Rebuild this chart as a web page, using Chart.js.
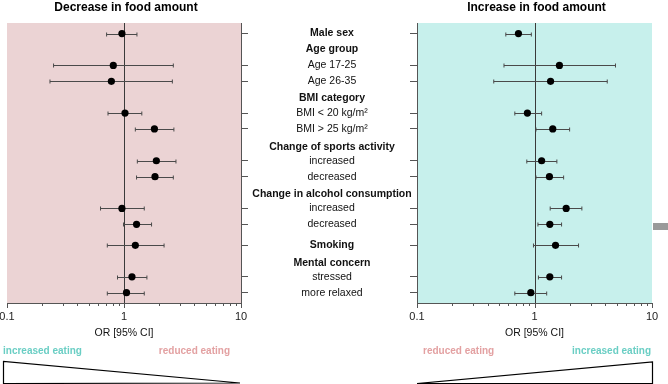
<!DOCTYPE html>
<html>
<head>
<meta charset="utf-8">
<script src="https://cdn.jsdelivr.net/npm/chart.js@4.4.0/dist/chart.umd.min.js"></script>
<style>
  body { margin: 0; background: #fff; }
  #wrap { position: relative; width: 668px; height: 384px; }
  canvas { position: absolute; left: 0; top: 0; }
</style>
</head>
<body>
<div id="wrap">
  <canvas id="decrease" width="668" height="384"></canvas>
  <canvas id="increase" width="668" height="384"></canvas>
</div>
<script>
const rowLabels = ['Male sex', 'Age 17-25', 'Age 26-35', 'BMI < 20 kg/m²', 'BMI > 25 kg/m²',
    'increased', 'decreased', 'increased', 'decreased', 'Smoking', 'stressed', 'more relaxed'];
const rowPos = [0, 2, 3, 5, 6, 8, 9, 11, 12, 13.32, 15.3, 16.3];
const boldRows = ['Male sex', 'Smoking'];
const groupLabels = ['Age group', 'BMI category', 'Change of sports activity',
    'Change in alcohol consumption', 'Mental concern'];
const groupPos = [1, 4.09, 7.14, 10.11, 14.44];
const orTicks = [0.1, 1, 10];

const decreaseOR = [0.96, 0.81, 0.78, 1.02, 1.82, 1.89, 1.84, 0.96, 1.28, 1.25, 1.17, 1.05];
const decreaseLow = [0.71, 0.25, 0.233, 0.73, 1.25, 1.30, 1.28, 0.63, 0.99, 0.72, 0.88, 0.72];
const decreaseHigh = [1.29, 2.64, 2.59, 1.42, 2.67, 2.78, 2.64, 1.49, 1.72, 2.20, 1.57, 1.49];

const increaseOR = [0.73, 1.63, 1.37, 0.87, 1.43, 1.15, 1.34, 1.86, 1.35, 1.51, 1.35, 0.93];
const increaseLow = [0.57, 0.55, 0.45, 0.68, 1.03, 0.86, 1.03, 1.36, 1.07, 0.98, 1.08, 0.68];
const increaseHigh = [0.94, 4.89, 4.16, 1.15, 1.99, 1.55, 1.77, 2.53, 1.70, 2.37, 1.70, 1.27];

const TEAL = '#6acec4';
const ROSE = '#e3a1a2';
const FONT = "'Liberation Sans', Arial, sans-serif";
Chart.defaults.font.family = FONT;

const forestPlugin = {
    id: 'forest',
    beforeDraw(chart, args, opts) {
        const { ctx, chartArea: a } = chart;
        ctx.save();
        ctx.fillStyle = opts.bg;
        ctx.fillRect(a.left, a.top, a.right - a.left, a.bottom - a.top);
        ctx.restore();
    },
    beforeDatasetsDraw(chart, args, opts) {
        const { ctx, chartArea: a, scales: { x, y } } = chart;
        ctx.save();
        // reference line at OR = 1
        const x1 = Math.round(x.getPixelForValue(1)) + 0.5;
        ctx.strokeStyle = '#3a3a3a';
        ctx.lineWidth = 1;
        ctx.beginPath();
        ctx.moveTo(x1, a.top);
        ctx.lineTo(x1, a.bottom);
        ctx.stroke();
        // confidence intervals
        ctx.strokeStyle = '#4a4a4a';
        opts.low.forEach((lo, i) => {
            const py = Math.round(y.getPixelForValue(rowPos[i])) + 0.5;
            const x0 = x.getPixelForValue(lo);
            const x2 = x.getPixelForValue(opts.high[i]);
            ctx.beginPath();
            ctx.moveTo(x0, py); ctx.lineTo(x2, py);
            ctx.moveTo(x0, py - 2); ctx.lineTo(x0, py + 2);
            ctx.moveTo(x2, py - 2); ctx.lineTo(x2, py + 2);
            ctx.stroke();
        });
        ctx.restore();
    },
    afterDraw(chart, args, opts) {
        const { ctx, chartArea: a, scales: { x, y } } = chart;
        const cx = (a.left + a.right) / 2;
        ctx.save();

        // log ticks below the axis: long at decades, short in between
        ctx.strokeStyle = '#555';
        ctx.lineWidth = 1;
        ctx.beginPath();
        for (let d = 0.1; d < 10; d *= 10) {
            for (let m = 1; m <= 10; m++) {
                const px = Math.round(x.getPixelForValue(d * m)) + 0.5;
                const len = (m === 1 || m === 10) ? 5 : 3;
                ctx.moveTo(px, a.bottom);
                ctx.lineTo(px, a.bottom + len);
            }
        }
        ctx.stroke();

        ctx.textBaseline = 'middle';
        ctx.fillStyle = '#000';
        ctx.textAlign = 'center';
        ctx.font = `bold 12px ${FONT}`;
        ctx.fillText(opts.title, cx + 2, 8);
        ctx.font = `10.5px ${FONT}`;
        ctx.fillStyle = '#111';
        ctx.fillText('OR [95% CI]', cx, 333);

        // direction captions
        ctx.font = `bold 10px ${FONT}`;
        ctx.textAlign = 'left';
        ctx.fillStyle = opts.leftColor;
        ctx.fillText(opts.leftText, opts.leftX, 351);
        ctx.textAlign = 'right';
        ctx.fillStyle = opts.rightColor;
        ctx.fillText(opts.rightText, opts.rightX, 351);

        // wedge
        ctx.strokeStyle = '#000';
        ctx.fillStyle = '#fff';
        ctx.lineWidth = 1.2;
        ctx.beginPath();
        if (opts.wedge === 'left') {
            ctx.moveTo(3.5, 383.5);
            ctx.lineTo(3.5, 361.5);
            ctx.lineTo(a.right - 1, 383);
        } else {
            ctx.moveTo(a.left, 383.5);
            ctx.lineTo(a.right + 0.5, 362);
            ctx.lineTo(a.right + 0.5, 383.5);
        }
        ctx.closePath();
        ctx.fill();
        ctx.stroke();

        // category labels in the middle column
        if (opts.labels) {
            ctx.fillStyle = '#111';
            ctx.textAlign = 'center';
            rowLabels.forEach((t, i) => {
                ctx.font = (boldRows.includes(t) ? 'bold ' : '') + `10.5px ${FONT}`;
                ctx.fillText(t, 332, y.getPixelForValue(rowPos[i]));
            });
            ctx.font = `bold 10.5px ${FONT}`;
            groupLabels.forEach((t, i) => {
                ctx.fillText(t, 332, y.getPixelForValue(groupPos[i]));
            });
        }
        if (opts.marker) {
            ctx.fillStyle = '#9a9a9a';
            ctx.fillRect(a.right + 1, 223, 16, 7);
        }
        ctx.restore();
    }
};

function makeScales(side) {
    return {
        x: {
            type: 'logarithmic',
            min: 0.1,
            max: 10,
            afterFit: s => {
                s.height = 81;
                // let the end labels hang over the edge instead of shrinking the plot
                s.paddingLeft = 0;
                s.paddingRight = 0;
            },
            border: { color: '#555', width: 1 },
            grid: { drawOnChartArea: false, tickLength: 4, color: 'rgba(0,0,0,0)' },
            ticks: {
                autoSkip: false,
                maxRotation: 0,
                padding: 3,
                color: '#222',
                font: { size: 11 },
                callback: v => orTicks.some(t => Math.abs(t - v) < 1e-9) ? String(v) : ''
            }
        },
        y: {
            type: 'linear',
            position: side,
            reverse: true,
            min: -0.667,
            max: 16.95,
            afterBuildTicks: s => { s.ticks = rowPos.map(v => ({ value: v })); },
            afterFit: s => { s.width = 7; },
            border: { color: '#555', width: 1 },
            grid: { drawOnChartArea: false, tickLength: 7, color: '#555' },
            ticks: { display: false }
        }
    };
}

function makePanel(id, or, low, high, padding, side, extra) {
    new Chart(document.getElementById(id), {
        type: 'scatter',
        data: {
            datasets: [{
                data: or.map((v, i) => ({ x: v, y: rowPos[i] })),
                pointRadius: 3.6,
                pointBackgroundColor: '#000',
                pointBorderWidth: 0
            }]
        },
        options: {
            responsive: false,
            animation: false,
            layout: { padding },
            scales: makeScales(side),
            plugins: {
                legend: { display: false },
                tooltip: { enabled: false },
                forest: Object.assign({ low, high }, extra)
            }
        },
        plugins: [forestPlugin]
    });
}

makePanel('decrease', decreaseOR, decreaseLow, decreaseHigh,
    { left: 7, right: 420, top: 23, bottom: 0 }, 'right', {
        bg: '#ebd3d4', title: 'Decrease in food amount',
        leftText: 'increased eating', leftColor: TEAL, leftX: 3,
        rightText: 'reduced eating', rightColor: ROSE, rightX: 230,
        wedge: 'left', labels: true
    });

makePanel('increase', increaseOR, increaseLow, increaseHigh,
    { left: 410, right: 16, top: 23, bottom: 0 }, 'left', {
        bg: '#c7f0ec', title: 'Increase in food amount',
        leftText: 'reduced eating', leftColor: ROSE, leftX: 423,
        rightText: 'increased eating', rightColor: TEAL, rightX: 651,
        wedge: 'right', marker: true
    });
</script>
</body>
</html>
